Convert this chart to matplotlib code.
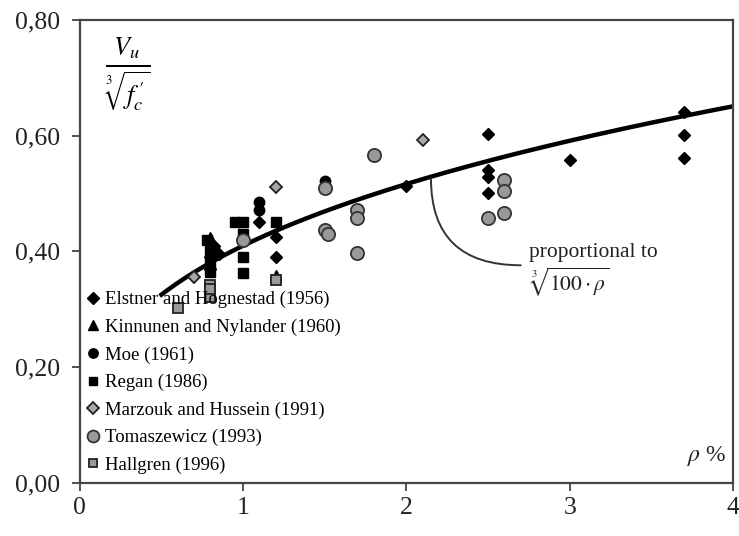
import numpy as np
import matplotlib
matplotlib.use("Agg")
import matplotlib.pyplot as plt

### Data (rho in %, v = Vu / cbrt(fc'))
elstner_rho = [0.80, 0.82, 0.80, 0.85, 1.10, 1.20, 1.20, 2.00, 2.50, 2.50, 2.50, 2.50, 3.00, 3.70, 3.70, 3.70]
elstner_v   = [0.39, 0.41, 0.37, 0.395, 0.45, 0.425, 0.39, 0.513, 0.603, 0.54, 0.528, 0.50, 0.558, 0.641, 0.601, 0.562]

kinnunen_rho = [0.80, 1.20]
kinnunen_v   = [0.425, 0.36]

moe_rho = [1.10, 1.10, 1.50]
moe_v   = [0.486, 0.472, 0.521]

regan_rho = [0.78, 0.80, 0.80, 0.80, 0.95, 1.00, 1.00, 1.00, 1.00, 1.20]
regan_v   = [0.42, 0.40, 0.38, 0.365, 0.45, 0.45, 0.43, 0.39, 0.362, 0.45]

marzouk_rho = [0.70, 1.20, 2.10]
marzouk_v   = [0.356, 0.512, 0.592]

tomasz_rho = [1.00, 1.50, 1.50, 1.52, 1.70, 1.70, 1.70, 1.80, 2.50, 2.60, 2.60, 2.60]
tomasz_v   = [0.42, 0.51, 0.437, 0.43, 0.472, 0.457, 0.397, 0.566, 0.457, 0.523, 0.505, 0.466]

hallgren_rho = [0.60, 0.80, 0.80, 0.80, 1.20]
hallgren_v   = [0.302, 0.342, 0.322, 0.335, 0.351]

### model curve: proportional to cbrt(100 * rho)
curve_k = 0.0883
curve_rho = np.linspace(0.5, 4.0, 200)
curve_v = curve_k * np.cbrt(100 * curve_rho)

xticks = [0, 1, 2, 3, 4]
yticks = [0.0, 0.2, 0.4, 0.6, 0.8]
ytick_labels = ["0,00", "0,20", "0,40", "0,60", "0,80"]

plt.rcParams["font.family"] = ["Liberation Serif", "DejaVu Serif"]
plt.rcParams["mathtext.fontset"] = "stix"

fig = plt.figure(figsize=(7.39, 5.36), dpi=100)
ax = fig.add_axes([0.108, 0.099, 0.884, 0.864])

ax.plot(curve_rho, curve_v, color="black", lw=3.2, zorder=2)

ax.plot(elstner_rho, elstner_v, "D", color="black", ms=6.5, ls="none", zorder=3,
        label="Elstner and Hognestad (1956)")
ax.plot(kinnunen_rho, kinnunen_v, "^", color="black", ms=7.5, ls="none", zorder=3,
        label="Kinnunen and Nylander (1960)")
ax.plot(moe_rho, moe_v, "o", color="black", ms=7.5, ls="none", zorder=3,
        label="Moe (1961)")
ax.plot(regan_rho, regan_v, "s", color="black", ms=7, ls="none", zorder=3,
        label="Regan (1986)")
ax.plot(marzouk_rho, marzouk_v, "D", color="#a8a8a8", mec="#222222", mew=1.3, ms=6.5,
        ls="none", zorder=3, label="Marzouk and Hussein (1991)")
ax.plot(tomasz_rho, tomasz_v, "o", color="#999999", mec="#333333", mew=1.3, ms=9.5,
        ls="none", zorder=3, label="Tomaszewicz (1993)")
ax.plot(hallgren_rho, hallgren_v, "s", color="#9a9a9a", mec="#222222", mew=1.3, ms=7,
        ls="none", zorder=3, label="Hallgren (1996)")

### leader line from the curve to the annotation
ax.annotate("", xy=(2.15, 0.526), xytext=(2.70, 0.376),
            arrowprops=dict(arrowstyle="-", color="#333333", lw=1.4,
                            connectionstyle="angle3,angleA=0,angleB=90",
                            shrinkA=0, shrinkB=0))
ax.text(2.75, 0.398, "proportional to", fontsize=15.5, color="#222222", va="center", ha="left")
ax.text(2.75, 0.348, r"$\sqrt[3]{100\cdot\rho}$", fontsize=15.5, color="#222222", va="center", ha="left")

ax.text(3.72, 0.047, r"$\rho$ %", fontsize=17, color="#222222", ha="left", va="center")
ax.text(0.29, 0.705, r"$\frac{V_u}{\sqrt[3]{f_c^{\,\prime}}}$", fontsize=27, ha="center", va="center")

ax.set_xlim(0, 4)
ax.set_ylim(0, 0.8)
ax.set_xticks(xticks)
ax.set_yticks(yticks)
ax.set_yticklabels(ytick_labels)
ax.tick_params(axis="both", direction="out", length=6, width=1.2, colors="#333333",
               labelsize=18.5, labelcolor="#222222")
ax.tick_params(axis="x", pad=4)
ax.tick_params(axis="y", pad=8)
for s in ax.spines.values():
    s.set_color("#444444")
    s.set_linewidth(1.6)

ax.legend(loc="lower left", bbox_to_anchor=(-0.005, -0.005), frameon=False, fontsize=13.5,
          handlelength=0.6, handletextpad=0.3, labelspacing=0.55, markerscale=0.9,
          borderaxespad=0.2)

fig.savefig("out.png", dpi=100)
